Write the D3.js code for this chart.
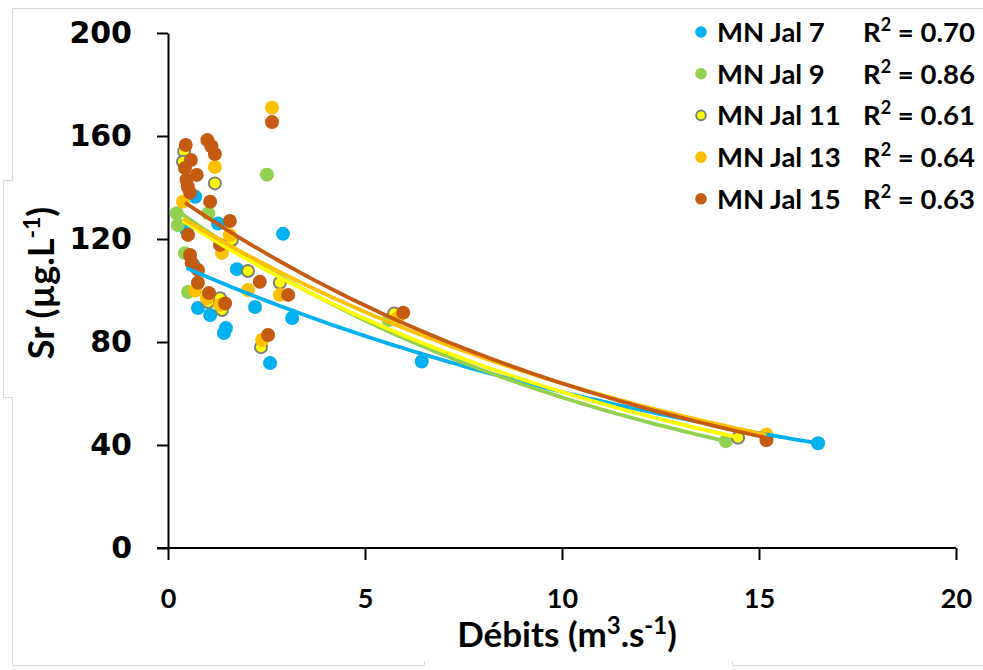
<!DOCTYPE html>
<html>
<head>
<meta charset="utf-8">
<script src="https://cdn.jsdelivr.net/npm/d3@7"></script>
<style>
  html, body { margin: 0; padding: 0; background: #ffffff; }
  svg { display: block; }
</style>
</head>
<body>
<svg id="chart" width="983" height="670"></svg>
<script>
// ---------------- DATA ----------------
const seriesNames = ["MN Jal 7", "MN Jal 9", "MN Jal 11", "MN Jal 13", "MN Jal 15"];
const r2Values = ["0.70", "0.86", "0.61", "0.64", "0.63"];

const jal7 = [[0.47,123.5],[0.69,136.4],[1.27,126],[2.92,122],[0.64,110],[1.75,108.3],[0.76,93.2],
  [1.07,90.5],[2.21,93.6],[3.15,89.3],[1.47,85.4],[1.42,83.5],[2.59,71.8],[6.44,72.4],[16.5,40.7]];
const jal9 = [[0.22,130],[0.25,125.4],[1.02,130],[2.51,145],[0.43,114.5],[0.51,99.4],[5.6,88.5],[14.16,41.5]];
const jal11 = [[0.41,154],[0.38,150],[1.19,141.6],[1.62,119.6],[2.03,107.6],[2.84,103],[1.02,95.5],
  [1.32,97],[1.37,92.4],[2.36,78],[5.74,91.1],[14.47,42.8]];
const jal13 = [[2.64,171],[1.19,148],[0.38,134.5],[1.57,121.5],[1.37,114.6],[2.03,100.2],[2.84,98.3],
  [0.69,100],[0.99,97],[1.32,94.4],[2.39,80.8],[5.82,89.2],[15.19,44.1]];
const jal15 = [[2.64,165.4],[0.45,156.5],[1.0,158.4],[1.1,156],[1.19,153],[0.58,150.7],[0.43,147.6],
  [0.73,144.9],[0.47,143],[0.5,140.4],[0.56,138],[1.07,134.5],[1.57,127],[0.51,121.6],[0.56,113.8],
  [0.6,110.7],[0.76,108],[1.32,117.7],[2.33,103.4],[0.76,103],[1.04,99],[1.45,95],[3.05,98.3],
  [2.54,82.7],[5.97,91.4],[15.19,41.9]];

// exponential trendline coefficients y = a * exp(b x)
const trendA = [111.9, 133.5, 130.8, 131.5, 138.7];
const trendB = [-0.0613, -0.0825, -0.0769, -0.0721, -0.0774];

const xTicks = [0, 5, 10, 15, 20];
const yTicks = [0, 40, 80, 120, 160, 200];

// ---------------- STYLE ----------------
const fills   = ["#00B0F0", "#92D050", "#FFFF00", "#FFC000", "#C55A11"];
const strokes = [null, null, "#7F7F7F", null, null];
const lineCol = ["#00B0F0", "#92D050", "#FFFF00", "#FFC000", "#C55A11"];
const allData = [jal7, jal9, jal11, jal13, jal15];

const svg = d3.select("#chart");
const W = 983, H = 670;
const plot = { left: 168, right: 956, top: 33, bottom: 548 };

// background frame (light grey)
const frame = svg.append("g").attr("stroke", "#D9D9D9").attr("stroke-width", 1).attr("fill", "none");
frame.append("path").attr("d",
  `M${W},8.5 L12.5,8.5 L12.5,180.5 L3.5,180.5 L3.5,397.5 L12.5,397.5 L12.5,665.5 L424.5,665.5 L424.5,661`);
frame.append("path").attr("d", `M732.5,661 L732.5,665.5 L${W},665.5`);

const x = d3.scaleLinear().domain([0, 20]).range([plot.left, plot.right]);
const y = d3.scaleLinear().domain([0, 200]).range([plot.bottom, plot.top]);

// ---------------- AXES ----------------
const calibri = "Lato, 'Open Sans', 'DejaVu Sans', sans-serif";

const yAxis = svg.append("g")
  .attr("transform", `translate(${plot.left},0)`)
  .call(d3.axisLeft(y).tickValues(yTicks).tickSize(11).tickPadding(25).tickSizeOuter(0));
yAxis.selectAll("text")
  .attr("font-family", "'DejaVu Sans', Verdana, sans-serif")
  .attr("font-weight", "bold").attr("font-size", 30).attr("fill", "#000");

const xAxis = svg.append("g")
  .attr("transform", `translate(0,${plot.bottom})`)
  .call(d3.axisBottom(x).tickValues(xTicks).tickSize(12).tickPadding(29).tickSizeOuter(0));
xAxis.selectAll("text")
  .attr("font-family", calibri)
  .attr("font-weight", "bold").attr("font-size", 27).attr("fill", "#000");

[xAxis, yAxis].forEach(a => {
  a.select(".domain").attr("stroke", "#000").attr("stroke-width", 2);
  a.selectAll(".tick line").attr("stroke", "#000").attr("stroke-width", 2);
});
// extend the x axis domain to the left over the 0 tick
xAxis.select(".domain").attr("d", `M${plot.left - 11},0H${plot.right}`);

// axis titles
const yTitle = svg.append("text")
  .attr("transform", "translate(54,283) rotate(-90)")
  .attr("text-anchor", "middle")
  .attr("font-family", calibri).attr("font-weight", "bold").attr("font-size", 36).attr("fill", "#000");
yTitle.append("tspan").text("Sr (µg.L");
yTitle.append("tspan").text("-1").attr("font-size", 23).attr("dy", -14);
yTitle.append("tspan").text(")").attr("dy", 14);

const xTitle = svg.append("text")
  .attr("x", 567).attr("y", 647)
  .attr("text-anchor", "middle")
  .attr("font-family", calibri).attr("font-weight", "bold").attr("font-size", 35).attr("fill", "#000");
xTitle.append("tspan").text("Débits (m");
xTitle.append("tspan").text("3").attr("font-size", 24).attr("dy", -13);
xTitle.append("tspan").text(".s").attr("dy", 13);
xTitle.append("tspan").text("-1").attr("font-size", 24).attr("dy", -13);
xTitle.append("tspan").text(")").attr("dy", 13);

// ---------------- POINTS ----------------
allData.forEach((data, i) => {
  svg.append("g").selectAll("circle").data(data).join("circle")
    .attr("cx", d => x(d[0])).attr("cy", d => y(d[1]))
    .attr("r", strokes[i] ? 6 : 7)
    .attr("fill", fills[i])
    .attr("stroke", strokes[i] || "none")
    .attr("stroke-width", strokes[i] ? 2 : 0);
});

// ---------------- TRENDLINES ----------------
const line = d3.line().x(d => x(d[0])).y(d => y(d[1]));
allData.forEach((data, i) => {
  const ext = d3.extent(data, d => d[0]);
  const pts = d3.range(0, 101).map(k => {
    const xv = ext[0] + (ext[1] - ext[0]) * k / 100;
    return [xv, trendA[i] * Math.exp(trendB[i] * xv)];
  });
  svg.append("path").datum(pts)
    .attr("d", line).attr("fill", "none")
    .attr("stroke", lineCol[i]).attr("stroke-width", 3.8);
});

// ---------------- LEGEND ----------------
const legend = svg.append("g");
seriesNames.forEach((name, i) => {
  const by = 42 + i * 41.7;
  legend.append("circle")
    .attr("cx", 701).attr("cy", by - 10)
    .attr("r", strokes[i] ? 4.8 : 5.8)
    .attr("fill", fills[i])
    .attr("stroke", strokes[i] || "none")
    .attr("stroke-width", strokes[i] ? 2 : 0);
  legend.append("text")
    .attr("x", 717).attr("y", by)
    .attr("font-family", calibri).attr("font-weight", "bold").attr("font-size", 27.5).attr("fill", "#000")
    .text(name);
  const r = legend.append("text")
    .attr("x", 863).attr("y", by)
    .attr("font-family", calibri).attr("font-weight", "bold").attr("font-size", 27.5).attr("fill", "#000");
  r.append("tspan").text("R");
  r.append("tspan").text("2").attr("font-size", 18).attr("dy", -11);
  r.append("tspan").text(" = " + r2Values[i]).attr("dy", 11);
});
</script>
</body>
</html>
